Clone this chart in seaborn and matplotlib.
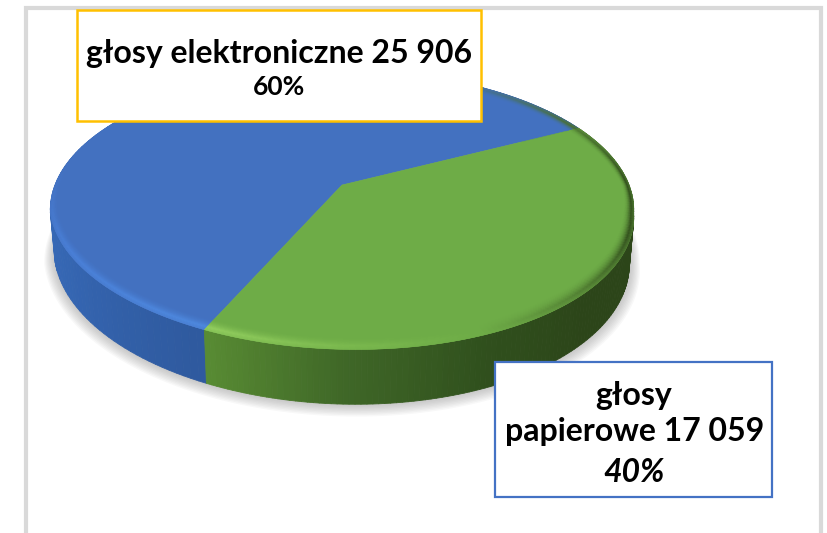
import numpy as np
import seaborn as sns
import matplotlib.pyplot as plt
from matplotlib.collections import PolyCollection
from matplotlib.patches import Rectangle

# chart data
vote_types = ["głosy elektroniczne", "głosy papierowe"]
vote_counts = [25906, 17059]
count_labels = ["25 906", "17 059"]
share_labels = ["60%", "40%"]

sns.set_theme(style="white")
plt.rcParams['font.family'] = ['Lato', 'Open Sans', 'DejaVu Sans']

# fake perspective for the disc
cx, cy = 342, 185
rx, ry = 287, 135
persp = 0.179
shear = 0.05
depth = 45
start_angle = 27

top_colors = ["#4371c0", "#6eac47"]
# colours of the wall / rim, going counter clockwise round each slice
side_stops = [
    ["#2f5a9e", "#2f5a9e", "#3465ae", "#3a6dbb", "#3a6dbb", "#3566b2", "#2f5a9f"],
    ["#588b33", "#3f6727", "#30501d", "#2c4519", "#2c4519", "#2c4519", "#2c4519"],
]
rim_stops = [
    ["#4a6f2e", "#4371c0", "#4371c0", "#4371c0", "#4371c0", "#4a80d8", "#4f8ae0"],
    ["#94d060", "#7dbb50", "#6eac47", "#527f33", "#33501e", "#33501e", "#4f7a33"],
]


def project(angle, r=1.0, drop=0.0, squeeze=1.0):
    a = np.radians(angle)
    u, v = r * np.cos(a), r * np.sin(a)
    w = 1 + persp * v
    x = cx + squeeze * rx * (u - shear * np.minimum(v + 0.2, 0)) / w
    y = cy - ry * v / w + drop * depth / w
    return np.column_stack([x, y])


fig = plt.figure(figsize=(8.28, 5.33), dpi=100)
ax = fig.add_axes([0, 0, 1, 1])
ax.set_xlim(0, 828)
ax.set_ylim(533, 0)
ax.axis("off")

# grey frame, open at the bottom
frame_color = "#d9d9d9"
ax.plot([26, 26, 821, 821], [533, 8, 8, 533], color=frame_color, lw=3, solid_joinstyle="miter")

# slice limits come from the values
fractions = np.array(vote_counts) / sum(vote_counts)
edges = start_angle + 360 * np.concatenate([[0], np.cumsum(fractions)])

# soft shadow
ring = np.linspace(0, 360, 361)
for grow in np.linspace(1.035, 1.0, 10):
    pts = project(ring, r=grow, drop=1.0 + (grow - 1) * 2.5, squeeze=0.985)
    ax.fill(pts[:, 0], pts[:, 1], color="#808080", alpha=0.055, lw=0, zorder=1)

# wall
for i in range(2):
    angles = np.linspace(edges[i], edges[i + 1], 145)
    pal = sns.blend_palette(side_stops[i], len(angles) - 1)
    upper = project(angles)
    lower = project(angles, drop=1.0, squeeze=0.985)
    quads = [np.vstack([upper[j], upper[j + 1], lower[j + 1], lower[j]]) for j in range(len(angles) - 1)]
    ax.add_collection(PolyCollection(quads, facecolors=pal, edgecolors=pal, linewidths=0.6, zorder=2))

# top face
for i in range(2):
    angles = np.linspace(edges[i], edges[i + 1], 200)
    pts = np.vstack([[cx, cy], project(angles)])
    ax.fill(pts[:, 0], pts[:, 1], color=top_colors[i], lw=0.4, zorder=3)

# bevel on the rim of the top face, narrower at the sides of the disc
rings = np.linspace(0.93, 1.0, 16)
for i in range(2):
    angles = np.linspace(edges[i], edges[i + 1], 145)
    pal = np.array(sns.blend_palette(rim_stops[i], len(angles) - 1))
    base = np.array(sns.color_palette([top_colors[i]])[0])
    narrow = 0.35 + 0.65 * np.abs(np.sin(np.radians(angles)))
    for k in range(len(rings) - 1):
        t = (k + 0.5) / (len(rings) - 1)
        amount = (t / 0.75) ** 2 if t < 0.75 else 1 - (t - 0.75) * 1.2
        inner = project(angles, r=1 - (1 - rings[k]) * narrow)
        outer = project(angles, r=1 - (1 - rings[k + 1]) * narrow)
        quads = [np.vstack([inner[j], inner[j + 1], outer[j + 1], outer[j]]) for j in range(len(angles) - 1)]
        cols = base + (pal - base) * amount
        ax.add_collection(PolyCollection(quads, facecolors=cols, edgecolors=cols, linewidths=0.3, zorder=4))

# label boxes
ax.add_patch(Rectangle((77, 10), 404, 111, fc="white", ec="#ffc000", lw=1.8, zorder=5))
ax.add_patch(Rectangle((495, 362), 277, 135, fc="white", ec="#4472c4", lw=1.6, zorder=5))

text_style = dict(ha="center", va="center", color="black", fontweight="bold", zorder=6)
ax.text(279, 54, f"{vote_types[0]} {count_labels[0]}", fontsize=23, **text_style)
ax.text(279, 87, share_labels[0], fontsize=19, **text_style)
first, second = vote_types[1].split(" ")
ax.text(634, 396, first, fontsize=23, **text_style)
ax.text(635, 431, f"{second} {count_labels[1]}", fontsize=23, **text_style)
ax.text(634, 472, share_labels[1], style="italic", fontsize=23, **text_style)

fig.savefig("out.png", dpi=100)
